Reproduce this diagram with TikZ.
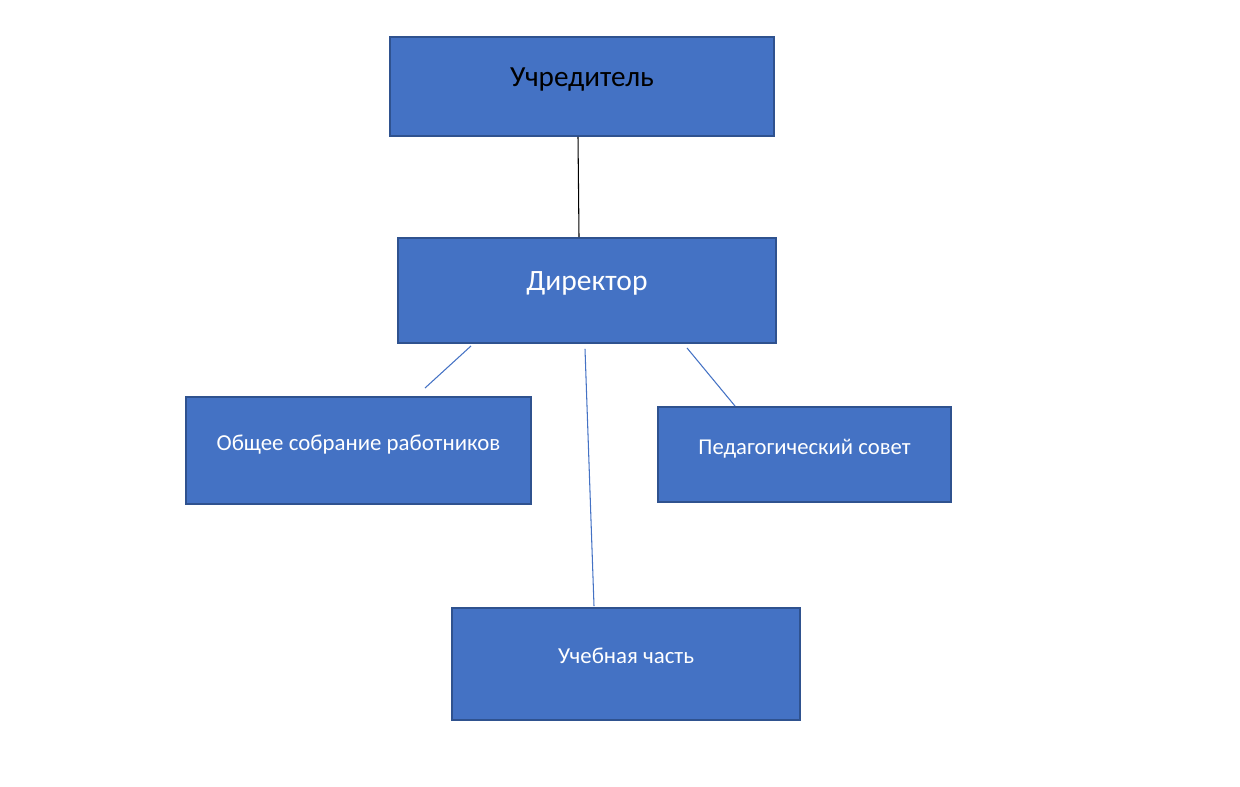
\documentclass[tikz,border=0pt]{standalone}
\usepackage{fontspec}
\setmainfont{Carlito}
\definecolor{boxfill}{HTML}{4472C4}
\definecolor{boxline}{HTML}{2F528F}
\tikzset{
  orgbox/.style={draw=boxline, fill=boxfill, line width=1.1pt, inner sep=0pt,
    text height=0.7em, text depth=0.25cm, text=white},
  link/.style={boxfill, line width=0.6pt}
}
\begin{document}
\begin{tikzpicture}
\useasboundingbox (0,0) rectangle (24.8,-15.74);
\node[orgbox, minimum width=7.68cm, minimum height=1.98cm, text=black, font=\fontsize{16.6}{18}\selectfont]
    (found) at (11.64,-1.73) {Учредитель};
\node[orgbox, minimum width=7.56cm, minimum height=2.10cm, font=\fontsize{16.8}{19}\selectfont]
    (dir) at (11.74,-5.81) {Директор};
\node[orgbox, minimum width=6.90cm, minimum height=2.14cm, font=\fontsize{13}{15}\selectfont]
    (meet) at (7.17,-9.01) {Общее собрание работников};
\node[orgbox, minimum width=5.86cm, minimum height=1.90cm, font=\fontsize{12.9}{15}\selectfont]
    (ped) at (16.09,-9.09) {Педагогический совет};
\node[orgbox, minimum width=6.96cm, minimum height=2.24cm, font=\fontsize{13}{15}\selectfont]
    (edu) at (12.52,-13.28) {Учебная часть};
\draw[black, line width=0.6pt]
    ([xshift=-0.08cm]found.south)--([xshift=-0.16cm]dir.north);
\draw[link]
    ([xshift=-2.32cm, yshift=-0.04cm]dir.south)--([xshift=1.33cm, yshift=0.16cm]meet.north);
\draw[link]
    ([xshift=-0.04cm, yshift=-0.1cm]dir.south)--([xshift=-0.64cm, yshift=0.02cm]edu.north);
\draw[link]
    ([xshift=2.0cm, yshift=-0.08cm]dir.south)--([xshift=-1.39cm]ped.north);
\end{tikzpicture}
\end{document}
